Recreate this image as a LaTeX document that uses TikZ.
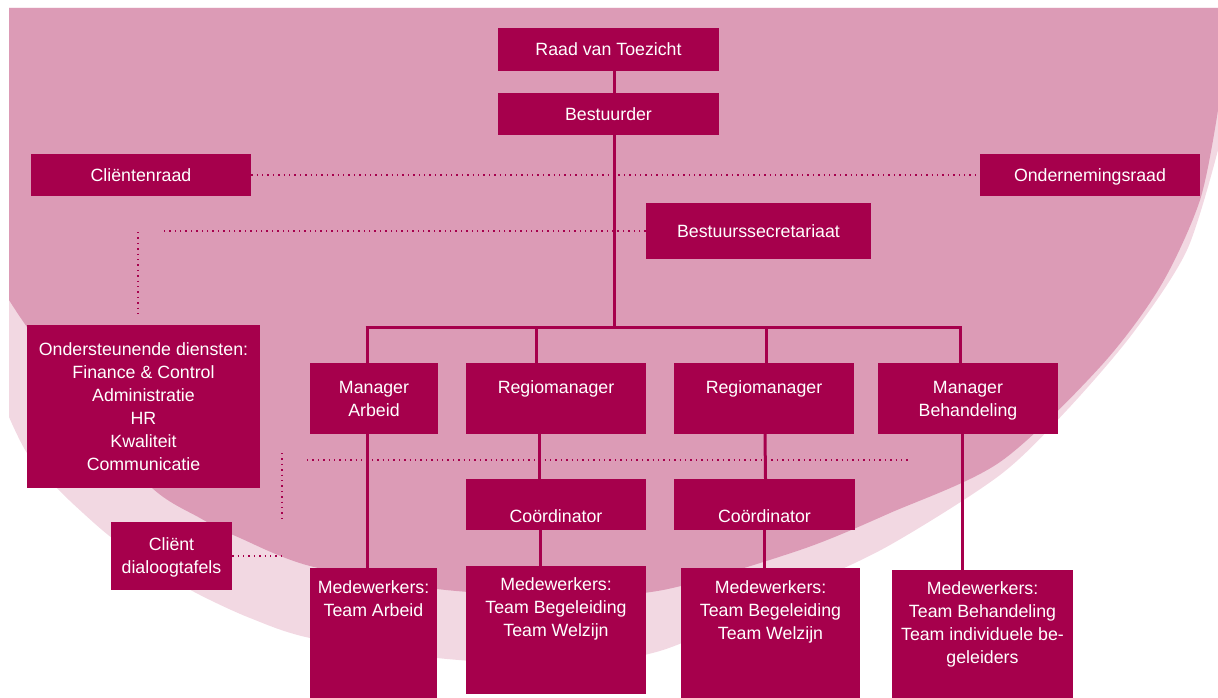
\documentclass[tikz,border=0pt]{standalone}
\usepackage{fontspec}
\setmainfont{Liberation Sans}
\definecolor{boxred}{HTML}{A6004C}
\definecolor{roze}{HTML}{DC9BB6}
\definecolor{lichtroze}{HTML}{F2D8E2}
% strut with the line height of the chart
\newcommand{\regelstrut}{\rule[-5.4pt]{0pt}{23pt}}

\begin{document}
\begin{tikzpicture}[x=1pt, y=-1pt,
	box/.style={fill=boxred, text=white, inner sep=0pt, align=center,
		font=\fontsize{17.75}{23}\selectfont, execute at end node=\regelstrut},
	lijn/.style={draw=boxred, line width=3pt},
	stippel/.style={draw=boxred, line width=1.4pt, dash pattern=on 1.4pt off 4pt}]
	\useasboundingbox (0,0) rectangle (1218,698);

	% Draw the two pink "circles" behind the chart
	\fill[lichtroze] plot[smooth] coordinates {(9,417) (27,453) (57,488) (83,513) (112,538)
		(160,572) (200,595) (250,618) (310,638) (437,658) (560,664) (663,650) (800,588)
		(890,545) (1000,475) (1067,410) (1133,333) (1187,250) (1218,150)}
		-- (1218,8) -- (9,8) -- cycle;
	\fill[roze] plot[smooth] coordinates {(9,300) (27,327) (80,400) (150,486) (200,518)
		(240,538) (310,566) (437,589) (560,596) (663,590) (800,550) (890,513) (1000,462)
		(1100,367) (1160,287) (1200,200) (1218,110)} -- (1218,8) -- (9,8) -- cycle;

	% Top of the organisation
	\node[box, minimum width=221, minimum height=43] (rvt) at (608.5,49.5) {\regelstrut Raad van Toezicht};
	\node[box, minimum width=221, minimum height=42] (bestuurder) at (608.5,114) {\regelstrut Bestuurder};
	\node[box, minimum width=220, minimum height=42] (clientenraad) at (141,175) {\regelstrut Cliëntenraad};
	\node[box, minimum width=220, minimum height=42] (ondernemingsraad) at (1090,175) {\regelstrut Ondernemingsraad};
	\node[box, minimum width=225, minimum height=56] (bss) at (758.5,231) {\regelstrut Bestuurssecretariaat};
	\node[box, minimum width=233, minimum height=163] (ond) at (143.5,406.5)
		{\regelstrut Ondersteunende diensten:\\Finance \& Control\\Administratie\\HR\\Kwaliteit\\Communicatie};

	% Managers
	\node[box, minimum width=128, minimum height=71] (manArb) at (374,398.5) {\regelstrut Manager\\Arbeid};
	\node[box, minimum width=180, minimum height=71] (regio1) at (556,398.5) {\regelstrut Regiomanager\\~};
	\node[box, minimum width=180, minimum height=71] (regio2) at (764,398.5) {\regelstrut Regiomanager\\~};
	\node[box, minimum width=180, minimum height=71] (manBeh) at (968,398.5) {\regelstrut Manager\\Behandeling};
	\node[box, minimum width=180, minimum height=51] (coord1) at (556,504.5) {\regelstrut~\\Coördinator};
	\node[box, minimum width=181, minimum height=51] (coord2) at (764.5,504.5) {\regelstrut~\\Coördinator};
	\node[box, minimum width=121, minimum height=68] (dialoog) at (171.5,556) {\regelstrut Cliënt\\dialoogtafels};

	% Teams
	\node[box, minimum width=127, minimum height=130] (mwArb) at (373.5,633)
		{\regelstrut Medewerkers:\\Team Arbeid\\~\\~\\~};
	\node[box, minimum width=180, minimum height=128] (mwBeg1) at (556,630)
		{\regelstrut Medewerkers:\\Team Begeleiding\\Team Welzijn\\~\\~};
	\node[box, minimum width=179, minimum height=130] (mwBeg2) at (770.5,633)
		{\regelstrut Medewerkers:\\Team Begeleiding\\Team Welzijn\\~\\~};
	\node[box, minimum width=181, minimum height=128] (mwBeh) at (982.5,634)
		{\regelstrut Medewerkers:\\Team Behandeling\\Team individuele be-\\geleiders\\~};

	% Dotted (advisory) lines
	\coordinate (secL) at (163,231);
	\coordinate (ondTop) at (138,232);
	\coordinate (ondBot) at (138,314);
	\coordinate (midL) at (307,460);
	\coordinate (midR) at (910,460);
	\coordinate (vT) at (282,453);
	\coordinate (vB) at (282,520);
	\coordinate (dialR) at (282,556);
	\draw[stippel] (clientenraad.east) -- (ondernemingsraad.west);
	\draw[stippel] (bss.west) -- (secL);
	\draw[stippel] (ondTop) -- (ondBot);
	\draw[stippel] (midL) -- (midR);
	\draw[stippel] (vT) -- (vB);
	\draw[stippel] (dialoog.east) -- (dialR);

	% Solid lines of the hierarchy
	\coordinate (barL) at (365.5,327);
	\coordinate (barR) at (961.5,327);
	\draw[lijn] ([xshift=5.5]rvt.south) -- ([xshift=5.5]bestuurder.north);
	\draw[lijn] ([xshift=5.5]bestuurder.south) -- ([xshift=5.5]bestuurder.south |- barL);
	\draw[lijn] (barL) -- (barR);
	\foreach \n/\dx in {manArb/-7, regio1/-20, regio2/2, manBeh/-8} {
		\draw[lijn] ([xshift=\dx]\n.north |- barL) -- ([xshift=\dx]\n.north);
	}
	\draw[lijn] ([xshift=-7]manArb.south) -- ([xshift=-7]manArb.south |- mwArb.north);
	\draw[lijn] ([xshift=-17]regio1.south) -- ([xshift=-17]coord1.north);
	\draw[lijn] ([xshift=-16]coord1.south) -- ([xshift=-16]mwBeg1.north);
	\draw[lijn] ([xshift=1]regio2.south) -- ([xshift=1]coord2.north);
	\draw[lijn] (coord2.south) -- (coord2.south |- mwBeg2.north);
	\draw[lijn] ([xshift=-6]manBeh.south) -- ([xshift=-6]manBeh.south |- mwBeh.north);
\end{tikzpicture}
\end{document}
